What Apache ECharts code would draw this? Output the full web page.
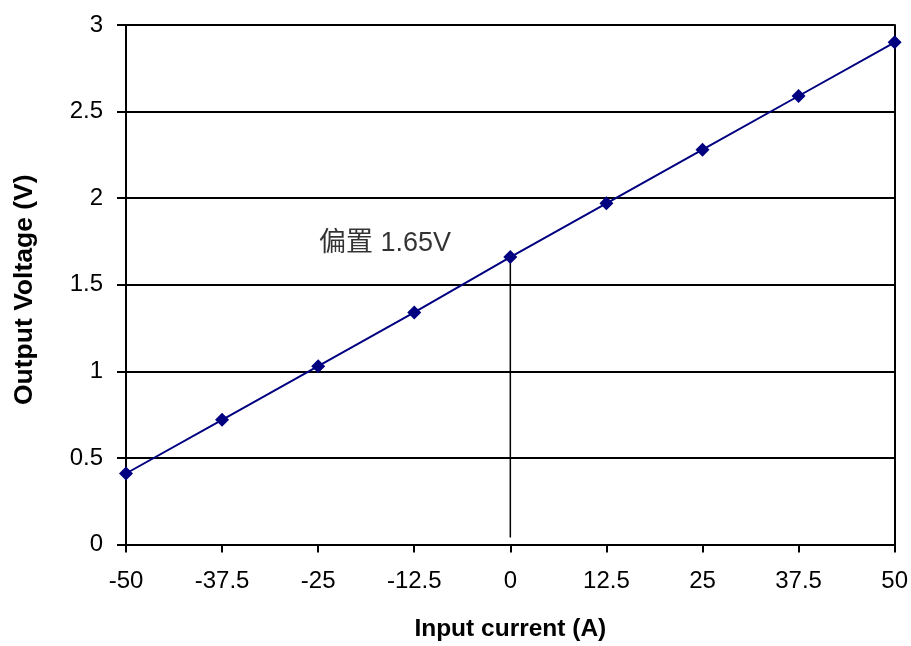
<!DOCTYPE html>
<html>
<head>
<meta charset="utf-8">
<script src="https://cdn.jsdelivr.net/npm/echarts@6/dist/echarts.min.js"></script>
<style>html,body{margin:0;padding:0;background:#fff;}#c{width:911px;height:646px;}</style>
</head>
<body>
<div id="c"></div>
<script>
var currents = [-50, -37.5, -25, -12.5, 0, 12.5, 25, 37.5, 50];
var voltages = [0.41, 0.72, 1.03, 1.34, 1.66, 1.97, 2.28, 2.59, 2.90];
var offsetLine = [[0, 1.66], [0, 0.04]];
var annotationPoint = [[-24.9, 1.74]];
var annotationText = '偏置 1.65V';
var xTitle = 'Input current (A)';
var yTitle = 'Output Voltage (V)';

var FONT = '"Liberation Sans", Arial, "Noto Sans CJK SC", sans-serif';
var chart = echarts.init(document.getElementById('c'), null, {renderer: 'canvas'});
chart.setOption({
  animation: false,
  backgroundColor: '#ffffff',
  grid: {left: 126, right: 15, top: 25, bottom: 99, containLabel: false},
  xAxis: {
    type: 'value', min: -50, max: 50, interval: 12.5,
    name: xTitle, nameLocation: 'middle', nameGap: 72,
    nameTextStyle: {fontFamily: FONT, fontSize: 24.5, fontWeight: 'bold', color: '#000'},
    axisLine: {show: true, onZero: false, lineStyle: {color: '#000', width: 2}},
    axisTick: {show: true, length: 8, lineStyle: {color: '#000', width: 2}},
    axisLabel: {fontFamily: FONT, fontSize: 24, color: '#000', margin: 25},
    splitLine: {show: false}
  },
  yAxis: [{
    type: 'value', min: 0, max: 3, interval: 0.5,
    name: yTitle, nameLocation: 'middle', nameGap: 88, nameRotate: 90,
    nameTextStyle: {fontFamily: FONT, fontSize: 26.5, fontWeight: 'bold', color: '#000', padding: [0, 10, 0, 0]},
    axisLine: {show: true, onZero: false, lineStyle: {color: '#000', width: 2}},
    axisTick: {show: true, length: 9, lineStyle: {color: '#000', width: 2}},
    axisLabel: {fontFamily: FONT, fontSize: 24, color: '#000', margin: 23},
    splitLine: {show: true, lineStyle: {color: '#000', width: 2}}
  }, {
    type: 'value', min: 0, max: 3, interval: 0.5, position: 'right',
    axisLine: {show: true, onZero: false, lineStyle: {color: '#000', width: 2}},
    axisTick: {show: false}, axisLabel: {show: false}, splitLine: {show: false}
  }],
  series: [{
    type: 'line',
    data: currents.map(function (c, i) { return [c, voltages[i]]; }),
    symbol: 'diamond', symbolSize: 14,
    lineStyle: {color: '#000080', width: 2},
    itemStyle: {color: '#000080'},
    z: 5
  }, {
    type: 'line',
    data: offsetLine,
    symbol: 'none',
    lineStyle: {color: '#000', width: 1.5},
    z: 4
  }, {
    type: 'scatter',
    data: annotationPoint,
    symbolSize: 0,
    label: {show: true, position: 'right', distance: 0, formatter: annotationText,
      fontFamily: FONT, fontSize: 27, color: '#000'},
    z: 6
  }]
});
</script>
</body>
</html>
